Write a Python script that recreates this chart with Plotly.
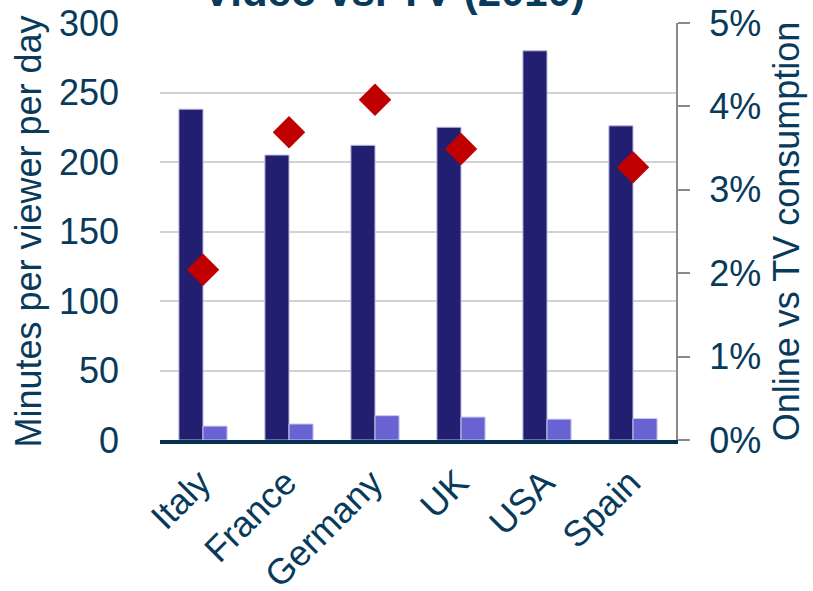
import plotly.graph_objects as go

# Daily viewing per viewer, by country (2010)
countries = ["Italy", "France", "Germany", "UK", "USA", "Spain"]
tv_minutes = [238, 205, 212, 225, 280, 226]
online_minutes = [10, 11.5, 17.5, 16.5, 15, 15.5]
online_share = [0.0204, 0.0369, 0.0408, 0.0349, None, 0.0327]

TEXT = "#083a5c"
FONT = "Liberation Sans, Arial, sans-serif"

fig = go.Figure()
fig.add_trace(go.Bar(
    x=countries, y=tv_minutes, name="TV",
    marker=dict(color="#221e70", line=dict(color="#b9b8dc", width=1)),
))
fig.add_trace(go.Bar(
    x=countries, y=online_minutes, name="Online video",
    marker=dict(color="#6862d2", line=dict(color="#c9c6ee", width=1)),
))
fig.add_trace(go.Scatter(
    x=countries, y=online_share, yaxis="y2", mode="markers", name="Online vs TV",
    marker=dict(symbol="diamond", size=25, color="#c00000"),
))

fig.add_annotation(
    text="<b>Video vs. TV (2010)</b>", xref="paper", yref="paper",
    x=0.453, y=1.015, xanchor="center", yanchor="bottom", showarrow=False,
    font=dict(family=FONT, size=42, color=TEXT),
)

fig.update_layout(
    width=813, height=591,
    margin=dict(l=160, r=137, t=23, b=151, autoexpand=False),
    paper_bgcolor="white", plot_bgcolor="white",
    barmode="group", bargap=0.44, bargroupgap=0,
    showlegend=False,
    font=dict(family=FONT, color=TEXT),
    xaxis=dict(
        tickangle=-45, tickfont=dict(size=36, color=TEXT),
        showline=True, linecolor="#06304f", linewidth=4,
        showgrid=False, ticks="", automargin=False,
        ticklabelstandoff=3, ticklabelshift=-3,
    ),
    yaxis=dict(
        range=[0, 300], dtick=50, tickfont=dict(size=36, color=TEXT),
        showgrid=True, gridcolor="#d2d2d2", gridwidth=1.5,
        zeroline=False, showline=False, ticks="", automargin=False,
        ticklabelstandoff=40,
        title=dict(text="Minutes per viewer per day", font=dict(size=36, color=TEXT), standoff=6),
    ),
    yaxis2=dict(
        range=[0, 0.05], dtick=0.01, tickformat=".0%", overlaying="y", side="right",
        tickfont=dict(size=36, color=TEXT), automargin=False,
        showgrid=False, zeroline=False,
        showline=True, linecolor="#8a8a8a", linewidth=2,
        ticks="outside", ticklen=12, tickwidth=2, tickcolor="#8a8a8a",
        ticklabelstandoff=12,
        title=dict(text="Online vs TV consumption", font=dict(size=36, color=TEXT), standoff=14),
    ),
)

fig.write_html("out.html")
